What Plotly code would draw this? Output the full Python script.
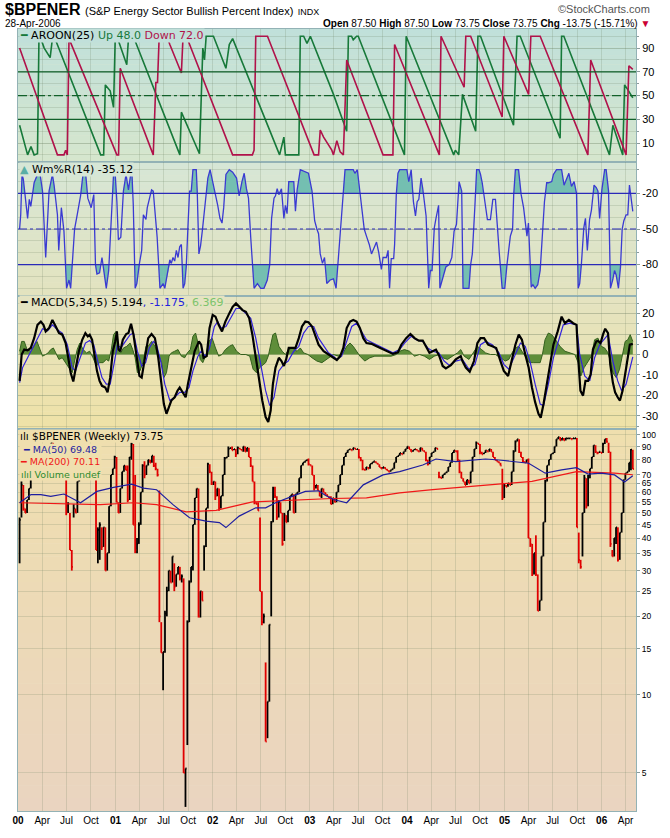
import pandas as pd
import plotly.graph_objects as go
from plotly.subplots import make_subplots

START = pd.Timestamp("2000-01-07")   # first weekly bar (Friday)

# ---------------- weekly price bars ----------------
close = [47,64,52,50,56,62,72,80,76,70, 84,88,80,75,78,85,90,93,88,84,
         80,76,72,74,70,50,54,36,31,52, 50,66,70,71,70,69,72,68,75,73,
         88,36,43,45,37,44,30,35,53,70, 74,82,55,50,62,72,76,73,56,82,
         92,45,36,38,45,60,76,70,76,80, 78,83,76,74,70,20,14.5,14.6,20.5,25,
         30,27,34,26,29,31,28,28.5,5,5.2, 19,27,31,45,57,62,20,25,23,37,
         52,77,72,65,66,58,62,52,58,70, 81,82,88,89,87,88,84,89,88,87,
         90,86,89,82,76,66,55,54,51,25, 19,20,6.6,9.4,18.6,46,62,58,48,55,
         50,38,49,46,51,58,59,50,59,60, 68,76,78,79,80,77,76,70,62,64,
         61,58,62,60,59,58,57,54,57,55, 60,64,70,76,82,85,87,88,87,89,
         88,88,82,80,74,73,75,74,77,78, 79,78,77,75,74,75,74,73,72,73,
         74,78,82,83,85,84,86,88,90,88, 86,87,88,87,86,89,87,86,80,77,
         82,85,86,89,88,69,68,70,71,72, 75,78,85,87,86,80,72,68,66,64,
         67,65,72,82,88,93,92,86,84,85, 87,86,88,86,82,80,79,78,76,57,
         64,63,65,64,72,86,94,96,86,82, 79,78,80,40,38,29,35,29,21,23,
         34,46,66,76,80,84,85,90,96,98, 95,97,95,97,97,97,96,97,97,44,
         33,31,50,68,53,68,74,82,91,86, 85,86,85,92,96,94,86,38,34,40,
         44,33,42,50,67,71,72,78,87.5,73.75]
high = [48,66,64,52,56,62,72,80,80,76, 86,89,88,80,80,86,91,93,93,88,
        84,80,76,75,74,70,55,50,36,54, 52,66,71,71,71,70,72,72,75,75,
        91,88,44,46,44,44,44,35,53,70, 74,83,82,55,62,72,76,76,76,82,
        93,92,70,40,46,60,77,79,76,80, 80,83,83,78,74,61,19,14.6,21,26,
        30,30,34,32,29,31,31,29,28,5.2, 19.3,27.5,31,45,57,62,62,25,25,37.5,
        52,78,77,72,66,66,62,62,58,70, 82,82,90,89,90,88,88,90,89,88,
        90,90,89,89,82,76,66,55,55,48, 25,20.5,13.3,9.4,18.6,46.5,63,63,58,56,
        55,50,50,49,51,58,59,59,59,60, 68,76,78,79,80,81,77,76,70,64,
        64,61,62,62,60,59,58,58,57,57, 60,64,70,76,82,85,87,88,88,89,
        89,88,88,82,80,74,75,75,77,78, 79,79,78,77,75,75,75,74,73,73,
        74,78,82,83,85,85,86,88,90,90, 88,87,88,88,87,89,89,87,86,80,
        82,85,86,89,89,72,69,70,71,72, 75,78,85,87,87,87,80,72,68,66,
        67,67,72,82,88,94,93,92,86,85, 87,87,88,88,86,82,80,79,78,74,
        65,64,65,65,72,87,95,96,96,86, 82,79,80,81,40,38,35,41,29,23,
        34,46,67,76,80,84,85,90,96,98, 98,97,97,97,97,97,97,97,97,97,
        42,33,50,70,68,70,74,82,91,91, 86,86,86,93,96,97,93,86,36,40,
        44,44,42,50,67,71,72,78,88,87.5]
low = [32,48,51,50,50,56,62,70,72,68, 70,84,70,70,70,75,84,88,87,80,
       72,70,69,70,68,49,50,36,30,48, 50,50,66,70,70,69,68,68,68,72,
       73,36,32,33,36,37,30,30,35,53, 70,74,55,50,50,62,72,73,55,56,
       80,45,35,35,38,45,60,68,70,76, 78,78,75,73,69,19,14.5,10.4,14.5,20,
       25,27,27,25,26,29,27.5,27,5,3.7, 6.4,19,27,30,45,57,19.8,19.8,23,30,
       37,52,71,64,64,56,58,51,52,58, 70,81,82,88,87,87,82,84,88,87,
       86,86,86,82,75,66,54,54,51,25, 18.5,18.8,6.6,6.8,9.4,20,46,57,47,48,
       50,37.4,39,46,46,51,58,50,50,59, 60,68,76,78,79,76,76,70,61,62,
       61,58,57,60,59,58,57,54,54,55, 55,60,64,70,76,82,85,87,87,87,
       88,87.5,81,79,73,73,73,74,74,77, 78,78,77,75,74,74,74,73,72,72,
       73,74,78,82,83,84,84,86,88,88, 86,86,87,87,86,86,87,86,79,76,
       77,82,85,86,88,68,68,68,70,71, 72,75,78,85,86,79,71,68,66,64,
       64,65,65,72,82,88,92,84,84,84, 85,86,86,86,82,80,79,78,76,56,
       57,63,63,64,64,72,86,94,85,82, 78,78,78,40,37,28.6,29,28.6,21,21,
       23,34,46,66,76,80,84,85,90,96, 95,95,95,95,96,96,96,96,96,44,
       32,30.5,34,50,52,53,68,74,82,85, 84,85,85,85,92,93,85,37,34,34,
       38,32.5,33,42,50,67,71,72,73,73.75]

# moving averages: (week number, value)
ma50_pts = [(0,54.7),(6.1,58.8),(11.4,58.8),(16.7,57.9),(23.8,59.1),(32.7,54.7),(41.5,60.5),
            (50.4,62.7),(60.2,64.5),(66.4,62.3),(73.5,61.4),(82.3,53.8),(91.2,47.9),(100,46.5),
            (107.2,45.9),(110.7,43.9),(117.8,48.6),(126.7,52.3),(132,52.3),(137.3,54.7),(146.2,57.9),
            (153.3,60.5),(160.4,60.8),(164,58.5),(168.4,56.3),(175.5,54.7),(184.4,64.1),(195,70.0),
            (203.9,72.1),(216.3,76.4),(223.4,80.6),(234,78.7),(250,80.6),(257.1,79.9),(273.1,77.6),
            (282,71.1),(290.8,73.2),(298.8,74.6),(305,70.5),(312.1,71.1),(319.2,70.0),(324.6,65.7),
            (329,69.48)]
ma200_pts = [(0,54.7),(25.6,54.3),(43.3,53.8),(61,54.7),(73.5,53.8),(89.4,50.5),(105.4,51.1),
             (124.9,55.1),(139.1,55.7),(167.5,56.8),(186.1,57.1),(203.9,59.7),(221.6,61.4),
             (241.1,63.2),(260.6,65.1),(274.9,66.1),(298.8,72.1),(319.2,71.1),(329,70.11)]

# AROON(25)
aroon_up_pts = [(0,25),(2.5,9),(4.3,0),(6.1,7),(7.8,0),(9.6,1),(10.4,100),(11.4,98),(13.2,90),(16.4,82),
                (17.6,98),(18.5,100),(43.5,0),(45.1,0),(46,59),(48.6,54),(50.4,40),(51.3,98),(52.2,100),
                (57.5,76),(58.4,98),(60.2,100),(61,100),(86,0),(86.8,36),(96.5,1),(98.3,90),(99.2,80),
                (100.1,100),(104,100),(110.7,73),(112.5,93),(114.3,98),(139.5,0),(141.8,15),(142.6,0),
                (149.8,0),(150.6,100),(152.4,100),(154.2,94),(156,100),(168.4,51),(175.5,20),(176.4,100),
                (178.1,100),(179,97),(180.8,100),(181.7,100),(206.5,0),(207.4,100),(232.9,0),(233.8,4),
                (235.6,0),(237.6,51),(244.7,20),(245.9,100),(247.3,100),(265,25),(266.9,100),(268.6,100),
                (290,14),(290.8,100),(292,100),(316.5,0),(318.3,25),(323.6,0),(324.6,59),(326.3,55),(329,48)]
aroon_dn_pts = [(0,90),(19.4,4),(20.3,0),(23.8,0),(24.7,4),(25.6,0),(26.5,98),(52.2,0),(53.1,0),(54,73),
                (71.7,0),(73.1,61),(74,61),(74.9,100),(79,100),(80.6,93),(86.8,69),(87.7,100),(89.5,100),
                (114.3,0),(124.9,0),(125.8,4),(126.7,100),(133,100),(158,0),(160.4,0),(161.3,21),(163.1,15),
                (167.5,4),(168.4,0),(170.2,12),(172,2.5),(173.7,0),(175.5,80),(195,0),(200.3,0),(201.2,93),
                (225.2,0),(226.1,100),(238.5,57),(239.4,100),(242,100),(258.9,32),(259.8,100),(273.1,51),
                (274.3,100),(279.3,100),(304.9,0),(306.4,80),(325.4,0),(326.9,75),(329,72)]

# Williams %R(14)
wmr_pts = [(0,-50),(0.6,-38),(1.3,-4),(2,-8),(4.3,-41),(5.2,-25),(6,-31),(7.8,-11),(9.6,-4),(11,-4),
           (12.3,-18),(14,-74),(15.8,-18),(17.6,-4),(18.5,-13),(20.3,-38),(21,-68),(22.4,-32),(23.8,-52),
           (25.2,-100),(26.5,-93),(27.4,-100),(28.2,-81),(29.5,-50),(30.9,-38),(32.7,-22),(34,-4),(35.3,-1),
           (36.6,-24),(38.4,-32),(39.8,-21),(40.7,-80),(41.5,-88),(42.9,-87),(44.2,-74),(45.1,-85),
           (46.5,-100),(47.8,-85),(49.5,-27),(50.4,-4),(51.3,-4),(52.2,-27),(53,-59),(54.3,-57),(55.7,-18),
           (57.1,-4),(58.4,-17),(59.6,-4),(60.3,-4),(61,-30),(62,-100),(62.9,-96),(64.3,-79),(65.5,-68),
           (66.4,-38),(67.8,-42),(68.5,-32),(69.6,-25),(70.8,-17),(71.7,-18),(72.6,-38),(73.8,-57),
           (75.3,-100),(77,-96),(77.9,-100),(79.7,-85),(80.6,-76),(81.4,-79),(82.3,-74),(83.2,-77),
           (84.1,-68),(85,-74),(85.9,-65),(86.8,-63),(87.7,-100),(88.6,-96),(89.4,-82),(90.3,-49),
           (91.2,-18),(92.1,-18),(93,0),(94.8,0),(95.3,-18),(96.2,-71),(97.1,-64),(98,-52),(98.7,-41),
           (99.2,-35),(100.1,-17),(101,-7),(102.2,0),(103.6,-10),(105.4,-24),(106.3,-30),(107.5,-41),
           (108.6,-45),(109.5,-32),(110.7,-4),(112.5,0),(114.3,-2),(116.4,-7),(117.8,-22),(119.3,-10),
           (120.5,-3),(121.7,-16),(122.8,-24),(124,-57),(124.9,-80),(125.8,-100),(127.6,-96),(129.4,-100),
           (131.1,-100),(132.9,-93),(134.2,-80),(135.2,-41),(136.5,-24),(137.3,-22),(138.2,-16),(139.1,-21),
           (140.5,-16),(141.8,-41),(142.6,-30),(143.5,-37),(144.4,-10),(145.8,-10),(147.1,-10),(148,-35),
           (148.9,-17),(150.6,0),(155,-3),(156.9,-18),(158.3,-43),(159.5,-50),(160.4,-54),(161.3,-71),
           (162.5,-79),(163.6,-74),(164.8,-96),(166.6,-93),(168.4,-92),(169.8,-100),(171,-74),(172.3,-46),
           (173.4,-20),(174.6,0),(179,0),(179.9,-3),(181.2,0),(182.6,-18),(183.5,-32),(184.9,-50),
           (186.1,-56),(187.6,-63),(188.8,-71),(189.7,-68),(191.5,-61),(192.7,-70),(194.1,-84),(195,-74),
           (196.8,-74),(197.7,-68),(198.5,-100),(199.4,-75),(200.7,-75),(201.2,-63),(202.1,-21),(203,-3),
           (203.9,0),(207.8,0),(208.8,-10),(210.1,0),(211.3,-27),(212.4,-39),(213.3,-27),(214.2,-25),
           (215.4,-7),(216.3,-16),(218.1,-39),(219.5,-100),(220.4,-85),(221.3,-85),(222.5,-49),(223.4,-41),
           (224.8,-30),(225.5,-100),(226.9,-93),(228.7,-82),(230.5,-80),(231.9,-74),(233.1,-52),(234.4,-46),
           (235.8,-10),(237.2,-18),(237.9,-100),(241.1,-100),(242,-80),(242.9,-71),(244.3,-30),(245.2,0),
           (246.5,0),(247.3,-4),(248.2,-11),(250,-32),(251,-42),(252.6,-42),(253.9,-25),(255.3,-25),
           (256.2,-49),(257.4,-71),(258.9,-100),(260.3,-100),(261.5,-80),(263.3,-56),(264.5,-50),(265.1,-21),
           (266,0),(267.7,0),(269.1,-21),(270.4,-32),(272.2,-56),(273,-45),(274.5,-99),(275.4,-97),
           (276.6,-100),(278,-97),(279.3,-85),(280.5,-54),(281.6,-27),(282.8,-11),(283.7,-11),(285.5,-10),
           (286.4,-4),(288.1,0),(290.8,0),(292.1,-13),(293.5,-7),(294.7,-3),(296.1,-14),(297.5,-10),
           (298.8,-20),(299.7,-100),(300.5,-96),(301.4,-80),(302.7,-49),(303.6,-41),(304.6,-68),(305.8,-42),
           (306.8,-34),(308.2,-13),(309.4,-15),(310.3,-18),(311.2,-41),(312.4,-17),(313.9,0),(314.7,0),
           (316,-18),(317,-100),(318.2,-93),(319.2,-85),(320.1,-89),(321.3,-100),(322.4,-82),(323.3,-50),
           (324.2,-43),(325.4,-38),(326.3,-38),(327.2,-13),(329,-35.12)]

# MACD(5,34,5)
macd_pts = [(0,-12.9),(1.1,0),(2.5,2.4),(4.3,2),(6,3.2),(7.8,8),(9.6,14.5),(11.4,16.1),(12.8,14.5),
            (14,11.3),(15.8,12.9),(17.6,16.9),(19.4,13.7),(21.1,10.5),(22.9,9.7),(24.7,5.6),(26.1,-1.6),
            (27.4,-8.9),(28.8,-13.2),(30,-8),(31.8,1.6),(33.6,7.2),(35.3,10.5),(36.6,8.9),(37.6,9.7),
            (38.9,7.2),(40.3,-1.6),(41.5,-8),(42.9,-12.9),(44.2,-15.3),(46,-16.1),(47.2,-18.5),(48.6,-11.3),
            (50,1.6),(51.3,6.4),(52.2,11.3),(53.1,2.4),(54,1.6),(55.4,7.2),(57.2,10),(58.4,10.5),(59.8,15),
            (61.1,9.7),(62.8,-1.6),(64.3,-10.5),(65.5,-11.3),(66.4,-6.4),(67.8,1.6),(69,8),(70.8,10),
            (72.6,8),(74.4,-1.6),(76.2,-14.5),(77.4,-24.2),(78.8,-29),(80.2,-25),(81.4,-22.5),(83.2,-20.9),
            (84.7,-17.7),(85.9,-16.1),(87.3,-18.5),(89.1,-20.9),(90.3,-14.5),(92.1,-5.6),(93.9,1.6),
            (96.2,6.4),(97.4,4.8),(98.7,-1.6),(100.4,-0.8),(101.9,12.9),(103.6,19.3),(105.1,18.5),
            (106.8,14.5),(108.6,11.3),(110.4,16.1),(112.5,20.1),(114.3,23.3),(116.1,25),(117.8,23.3),
            (119.6,21.7),(121.4,20.9),(123.2,17.7),(124.9,9.7),(126.7,-1.6),(128.5,-11.3),(130.2,-22.5),
            (132,-30.6),(133.4,-33),(134.7,-27.4),(135.9,-14.5),(137.3,-6.4),(139.1,-1.6),(140.5,-3.2),
            (141.8,-5.6),(143,-2.4),(144.4,3.2),(146.2,3.2),(148,3.2),(149.8,8),(151.5,13.7),(153.3,16.1),
            (155,15.8),(156.9,13.7),(158.6,9.7),(160.4,4.8),(163.1,1.6),(165.7,0),(168.4,-1.6),
            (170.2,-2.7),(172,-0.8),(173.7,3.2),(175.5,12.9),(177.3,16.1),(179,16.9),(180.8,16.1),
            (182.6,12.9),(184.4,8),(186.1,5.6),(188.8,5.2),(191.5,4),(194.1,2.9),(196.8,1.6),(200.3,0.3),
            (203,1.1),(204.8,4.8),(207.4,8),(209.7,10),(211.9,8),(214.2,6.8),(216.3,6.8),(218.1,4),
            (219.9,0.8),(221.6,1.6),(223.4,2.4),(225.2,-0.8),(227,-5.6),(228.7,-6.8),(231.4,-5.2),
            (234,-2.4),(236.7,-0.8),(237.6,-3.2),(239.4,-6.4),(241.5,-8.4),(243.8,-3.2),(245.6,5.6),
            (247.3,8),(249.2,8),(251.4,4.8),(253.6,4),(255.7,3.2),(258,-3.2),(259.8,-8),(262.1,-10.5),
            (263.9,-3.2),(266,4.8),(267.8,9.7),(269.5,7.2),(271.3,0),(273.1,-6.4),(274.9,-16.1),
            (276.6,-23.3),(278.4,-29),(279.6,-30.9),(281.1,-24.2),(282.8,-14.5),(284.6,-3.2),(286.4,4.8),
            (288.7,11.3),(290.8,18.5),(292.6,15.3),(294.7,16.9),(297,15.3),(298.8,14.5),(299.7,-1.6),
            (300.9,-17.7),(302.3,-20.1),(303.6,-12.9),(305,-12.9),(306.4,-9.7),(307.6,2.4),(309.4,6.4),
            (310.3,6.6),(311.7,5.6),(313,9.7),(314.2,12.6),(315.7,10.5),(316.9,-4.8),(318.3,-13.7),
            (319.5,-18.5),(320.9,-20.9),(322.1,-22.5),(323.5,-17.7),(324.7,-11.3),(326.1,-3.2),
            (327.4,4.8),(329,5.194)]
signal_pts = [(0,-13.7),(1.6,-6.4),(4.3,-1.6),(7,3.2),(9.6,8),(12.3,12.6),(15,11.6),(17.6,14.5),
              (20.3,12.1),(22.9,10.5),(25.6,4.8),(28.2,-6.4),(30,-8),(32.7,-0.8),(35.3,5.6),(37.6,6.8),
              (39.8,4.8),(41.9,-3.2),(44.2,-11.3),(46.5,-14.5),(48.6,-14.5),(50.8,-4),(52.5,4.8),
              (54.3,3.2),(56.6,6.4),(59.3,9.7),(61.1,10.5),(63.2,1.6),(65.5,-5.6),(67.6,-4),(69.6,3.2),
              (71.7,6.4),(73.5,4.8),(75.7,-3.2),(77.9,-14.5),(80.6,-22.5),(83.2,-20.9),(85.9,-18.5),
              (88.6,-18.5),(90.9,-16.1),(93,-8),(95.7,-0.8),(97.4,1.6),(99.7,-0.8),(101.9,3.2),
              (104.5,13.7),(106.3,16.1),(108.1,12.9),(110.7,13.7),(113.4,18.5),(116.1,22.5),(118.7,22.5),
              (121.4,20.1),(124,17.7),(126.7,8),(129.4,-4.8),(132,-17.7),(134.2,-25),(136.5,-20.9),
              (139.1,-8),(141.8,-4.8),(144.1,-3.2),(147.1,1.6),(149.8,4),(152.4,10.5),(155,13.7),
              (157.8,13.7),(160.4,8),(163.1,4),(165.7,0.8),(168.4,-0.8),(170.2,-2.4),(172.8,-0.8),
              (175.5,6.4),(178.2,13.7),(180.8,15.3),(183.5,11.3),(186.1,7.2),(189.6,5.6),(193.2,4),
              (196.8,2.4),(200.3,0.8),(203.9,2.4),(206.5,5.6),(210.1,8.9),(212.8,7.2),(216.3,6.4),
              (219,3.2),(221.6,1.6),(224.9,0.8),(227.8,-3.2),(230.5,-5.2),(234,-3.2),(237.6,-2.4),
              (241.1,-7.2),(244.3,-4.8),(247.3,4.8),(250,6.4),(253.6,4.8),(257.2,0.8),(259.8,-4.8),
              (262.5,-7.2),(265.2,-1.6),(268.7,5.6),(271.3,4),(274,-4),(276.6,-14.5),(279.3,-24.2),
              (281.1,-25),(283.7,-14.5),(286.4,-1.6),(289.1,7.2),(291.7,14.5),(295.2,15.3),(298.8,14.5),
              (300.5,0),(303.2,-10.5),(305.9,-12.9),(308.5,-1.6),(311.2,4.8),(313.9,8),(315.7,9.7),
              (318.3,-3.2),(320.9,-12.9),(323,-17.7),(325.4,-14.5),(329,-1.175)]
hist_pts = [(0,1.6),(1.1,6.4),(2.5,6.4),(4,2.4),(6,1.6),(7.5,4),(9.3,6.4),(11,2.4),(12.3,-0.8),(14,0),
            (15.3,0.8),(16.7,2.4),(18.1,3.2),(19.4,0.8),(21.1,-2.4),(22.9,-1.6),(24.7,-4),(26.5,-6.4),
            (28.2,-8.9),(29.5,-3.2),(30.9,2.4),(32.3,5.6),(34.1,2.4),(35.9,0.8),(37.6,1.6),(39.4,-1.6),
            (41.2,-5.6),(42.9,-4),(44.8,-4),(46.5,-2.4),(47.8,-3.2),(49.2,2.4),(50.4,9.7),(51.8,11.3),
            (53.1,3.2),(54.3,0.8),(55.7,3.2),(57.5,4),(59.3,5.6),(60.7,2.4),(62,-1.6),(63.2,-8.9),
            (64.6,-8),(66.4,-3.2),(67.8,4),(69,4),(70.8,6.4),(72.6,4),(74.4,0),(76.2,-4),(77.4,-11.3),
            (78.8,-8.9),(80.2,-0.8),(81.4,0.8),(83.2,1.6),(85,2.4),(86.8,-0.8),(88.6,-1.6),(90,0.8),
            (91.6,2.4),(93,8.9),(94.4,10.5),(95.7,5.6),(96.9,-2.4),(98.3,-4),(100.1,0),(101.5,6.4),
            (103.3,8),(105.1,3.2),(106.8,-0.8),(108.6,0),(110.4,2.4),(112.5,4),(114.3,4.8),(116.4,1.6),
            (118.7,0),(121.4,0),(123.5,-0.8),(125.3,-7.2),(127.1,-8.9),(128.8,-6.4),(130.6,-4.8),(132,-4),
            (133.4,-0.8),(134.7,4),(135.9,9.7),(137.3,10.5),(139.1,4),(140.9,1.6),(142.6,0),(144.4,2.4),
            (146.2,3.2),(148.9,1.6),(150.6,3.2),(152.4,0.8),(154.7,0),(156.9,-1.6),(159.5,-3.2),(162.2,-4),
            (164.8,-2.4),(167.5,-0.8),(168.4,0),(171,-0.8),(173.7,0.8),(175.5,4),(177.3,5.6),(179,4),
            (180.8,1.6),(182.6,-0.8),(185.2,-3.2),(187.9,-1.6),(190.6,-0.8),(193.2,-0.8),(195.9,-0.8),
            (199.4,-0.8),(202.1,0),(203.9,1.6),(206.5,2.4),(209.2,1.6),(211.9,-0.8),(214.6,0),(217.2,-0.8),
            (219.9,-2.4),(222.5,-0.8),(225.2,0),(227,-1.6),(229.6,-2.4),(232.3,-0.8),(234.9,0.8),
            (236.7,2.4),(238.5,-0.8),(241.1,-2.4),(243.8,1.6),(245.6,4),(247.9,2.4),(250,0.8),(252.6,0),
            (255.3,0),(258,-1.6),(260.6,-3.2),(262.5,-2.4),(264.2,0.8),(266,3.2),(267.8,4),(269.5,1.6),
            (271.3,-0.8),(273.5,-4),(275.8,-4),(277.5,-4),(279.3,-4),(280.5,0),(281.9,7.2),(283.7,10.5),
            (285.5,9.7),(287.6,7.2),(289.9,4),(292.6,1.6),(295.2,0.8),(297.9,0),(299.7,-4),(301.1,-10.5),
            (302.9,-6.4),(305,-3.2),(306.8,-0.8),(308.5,7.2),(310.3,8),(312.1,4),(313.9,3.2),(315.7,0.8),
            (317.2,-4),(318.3,-8.9),(320.1,-11.3),(321.9,-7.2),(323.7,0),(324.9,6.4),(326.3,7.2),
            (327.6,9.7),(329,6.369)]

x_tick_dates = ["2000-01-01","2000-04-01","2000-07-01","2000-10-01","2001-01-01","2001-04-01",
                "2001-07-01","2001-10-01","2002-01-01","2002-04-01","2002-07-01","2002-10-01",
                "2003-01-01","2003-04-01","2003-07-01","2003-10-01","2004-01-01","2004-04-01",
                "2004-07-01","2004-10-01","2005-01-01","2005-04-01","2005-07-01","2005-10-01",
                "2006-01-01","2006-04-01"]
x_tick_labels = ["<b>00</b>","Apr","Jul","Oct","<b>01</b>","Apr","Jul","Oct","<b>02</b>","Apr","Jul","Oct",
                 "<b>03</b>","Apr","Jul","Oct","<b>04</b>","Apr","Jul","Oct","<b>05</b>","Apr","Jul","Oct",
                 "<b>06</b>","Apr"]
aroon_ticks = [10, 30, 50, 70, 90]
wmr_ticks = [-20, -50, -80]
macd_ticks = [20, 10, 0, -10, -20, -30]
price_ticks = [100, 90, 80, 70, 65, 60, 55, 50, 45, 40, 35, 30, 25, 20, 15, 10, 5]

# ---------------- helpers ----------------
def to_dates(ws):
    return [START + pd.Timedelta(days=7.0 * w) for w in ws]

def unzip(pts):
    return [p[0] for p in pts], [p[1] for p in pts]

def clip_to_level(pts, level, above):
    xs, ys = [], []
    for k, (w, v) in enumerate(pts):
        if k:
            w0, v0 = pts[k - 1]
            if (v0 - level) * (v - level) < 0:
                t = (level - v0) / (v - v0)
                xs.append(w0 + t * (w - w0)); ys.append(level)
        xs.append(w); ys.append(max(v, level) if above else min(v, level))
    return xs, ys

def hex2rgb(h):
    h = h.lstrip("#"); return tuple(int(h[i:i + 2], 16) for i in (0, 2, 4))

def mix(c1, c2, t):
    a, b = hex2rgb(c1), hex2rgb(c2)
    return "rgb(%d,%d,%d)" % tuple(round(a[i] + (b[i] - a[i]) * t) for i in range(3))

FONT = "Liberation Sans, Arial, sans-serif"
LFONT = "DejaVu Sans, Verdana, sans-serif"
GRID = "rgba(105,125,95,0.20)"
BORDER = "#93B2B5"

# panel layout (paper fractions)
D1, D2, D3, D4 = [0.8293, 1.0], [0.6587, 0.8293], [0.4880, 0.6587], [0.0, 0.4880]
PANEL_COLORS = [(D1, "#C0E0DA", "#D6E6CD"), (D2, "#D6E6D6", "#E3E3BF"),
                (D3, "#E4E3C1", "#EFE2A7"), (D4, "#EFDFAE", "#EAD4C0")]

fig = make_subplots(rows=4, cols=1, shared_xaxes=True, vertical_spacing=0)

# ---- AROON ----
x, y = unzip(aroon_up_pts)
fig.add_trace(go.Scatter(x=to_dates(x), y=y, mode="lines", line=dict(color="#17793A", width=1.6)), 1, 1)
x, y = unzip(aroon_dn_pts)
fig.add_trace(go.Scatter(x=to_dates(x), y=y, mode="lines", line=dict(color="#B0124A", width=1.6)), 1, 1)

# ---- Williams %R ----
for level, above in ((-20, True), (-80, False)):
    xs, ys = clip_to_level(wmr_pts, level, above)
    fig.add_trace(go.Scatter(x=to_dates(xs), y=[level] * len(xs), mode="lines",
                             line=dict(width=0), hoverinfo="skip"), 2, 1)
    fig.add_trace(go.Scatter(x=to_dates(xs), y=ys, mode="lines", line=dict(width=0),
                             fill="tonexty", fillcolor="#74BFB1", hoverinfo="skip"), 2, 1)
x, y = unzip(wmr_pts)
fig.add_trace(go.Scatter(x=to_dates(x), y=y, mode="lines", line=dict(color="#3A3AD2", width=1.3)), 2, 1)

# ---- MACD ----
x, y = unzip(hist_pts)
fig.add_trace(go.Scatter(x=to_dates(x), y=y, mode="lines", fill="tozeroy", fillcolor="#5F8E3A",
                         line=dict(color="#34601E", width=1)), 3, 1)
x, y = unzip(signal_pts)
fig.add_trace(go.Scatter(x=to_dates(x), y=y, mode="lines", line=dict(color="#3322DD", width=1.2)), 3, 1)
x, y = unzip(macd_pts)
fig.add_trace(go.Scatter(x=to_dates(x), y=y, mode="lines", line=dict(color="#000000", width=2.2)), 3, 1)

# ---- price bars ----
dates = to_dates(range(len(close)))
seg = {True: ([], []), False: ([], [])}
for i, (d, h, l, c) in enumerate(zip(dates, high, low, close)):
    up = i == 0 or c >= close[i - 1]
    sx, sy = seg[up]
    sx += [d, d, None, d, d + pd.Timedelta(days=4), None]
    sy += [l, h, None, c, c, None]
for up, col in ((True, "#000000"), (False, "#E00000")):
    sx, sy = seg[up]
    fig.add_trace(go.Scatter(x=sx, y=sy, mode="lines", line=dict(color=col, width=1.8),
                             connectgaps=False), 4, 1)
x, y = unzip(ma200_pts)
fig.add_trace(go.Scatter(x=to_dates(x), y=y, mode="lines", line=dict(color="#F01818", width=1.2)), 4, 1)
x, y = unzip(ma50_pts)
fig.add_trace(go.Scatter(x=to_dates(x), y=y, mode="lines", line=dict(color="#1E1EA0", width=1.2)), 4, 1)

# ---- reference lines ----
for lv, dash in ((70, "solid"), (30, "solid"), (50, "dashdot")):
    fig.add_hline(y=lv, row=1, col=1, line=dict(color="#11602A", width=1.2, dash=dash))
for lv, dash in ((-20, "solid"), (-80, "solid"), (-50, "dashdot")):
    fig.add_hline(y=lv, row=2, col=1, line=dict(color="#2A2AB8", width=1.2, dash=dash))

# ---- panel gradients ----
shapes = []
N = 30
for dom, ctop, cbot in PANEL_COLORS:
    h = (dom[1] - dom[0]) / N
    for k in range(N):
        shapes.append(dict(type="rect", xref="paper", yref="paper", x0=0, x1=1,
                           y0=dom[1] - (k + 1) * h, y1=dom[1] - k * h + 0.0005,
                           fillcolor=mix(ctop, cbot, (k + 0.5) / N), line=dict(width=0), layer="below"))
fig.update_layout(shapes=list(fig.layout.shapes) + shapes)

# ---- axes ----
xr = ["2000-01-01", "2006-05-10"]
fig.update_xaxes(range=xr, tickvals=x_tick_dates, ticktext=x_tick_labels, showgrid=True, gridcolor=GRID,
                 gridwidth=1, showline=True, mirror=True, linecolor=BORDER, linewidth=1, zeroline=False,
                 tickfont=dict(family=FONT, size=10, color="#000"), ticks="")
fig.update_xaxes(showticklabels=True, row=4, col=1)

ycommon = dict(side="right", showline=True, mirror=True, linecolor=BORDER, linewidth=1, zeroline=False,
               ticks="outside", ticklen=3, tickcolor="#8A9A9A", showgrid=True, gridcolor=GRID)
minor_common = dict(tick0=0, showgrid=True, gridcolor=GRID, ticks="outside", ticklen=2, tickcolor="#8A9A9A")
tf11 = dict(family=FONT, size=11, color="#000")
fig.update_layout(
    yaxis=dict(domain=D1, range=[-6.4, 106.1], tickvals=aroon_ticks, ticktext=[str(v) for v in aroon_ticks],
               minor=dict(dtick=10, **minor_common), tickfont=tf11, **ycommon),
    yaxis2=dict(domain=D2, range=[-106.4, 6.1], tickvals=wmr_ticks, ticktext=[str(v) for v in wmr_ticks],
                minor=dict(dtick=10, **minor_common), tickfont=tf11, **ycommon),
    yaxis3=dict(domain=D3, range=[-36.6, 28.65], tickvals=macd_ticks, ticktext=[str(v) for v in macd_ticks],
                minor=dict(dtick=5, **minor_common), tickfont=tf11, **ycommon),
    yaxis4=dict(domain=D4, type="log", range=[0.5525, 2.0202], tickvals=price_ticks,
                ticktext=[str(v) for v in price_ticks], tickfont=dict(family=FONT, size=8.5, color="#000"),
                **ycommon),
)

# ---- texts ----
def ann(text, x, y, xanchor="left", yanchor="middle", size=11, family=LFONT, color="#000", bg=None):
    d = dict(text=text, x=x, y=y, xref="paper", yref="paper", xanchor=xanchor, yanchor=yanchor,
             showarrow=False, font=dict(family=family, size=size, color=color), borderpad=0)
    if bg:
        d["bgcolor"] = bg
    fig.add_annotation(**d)

px = lambda p: (p - 17) / 623.0
py = lambda p: (820 - p) / 791.0

ann("<b>$BPENER</b> <span style='font-size:11px'>(S&amp;P Energy Sector Bullish Percent Index)</span>"
    " <span style='font-size:9px'>INDX</span>", px(3), py(9), size=16, family=FONT)
ann("©StockCharts.com", px(655), py(9), xanchor="right", size=11, family=FONT, color="#555")
ann("28-Apr-2006", px(3), py(23), size=10, family=FONT)
ann("<b>Open</b> 87.50 <b>High</b> 87.50 <b>Low</b> 73.75 <b>Close</b> 73.75 <b>Chg</b> -13.75 (-15.71%) "
    "<span style='color:#CC0033'>▼</span>", px(655), py(23), xanchor="right", size=10, family=FONT)

ann("<span style='color:#17793A'>━</span> AROON(25) <span style='color:#17793A'>Up 48.0</span> "
    "<span style='color:#B0124A'>Down 72.0</span>", px(18), py(36), size=11, bg="#C1E0DA")
ann("<span style='color:#5AAFA5'>▲</span> Wm%R(14) -35.12", px(18), py(171), size=11, bg="#D6E6D6")
ann("━ MACD(5,34,5) 5.194<span style='color:#2222DD'>, -1.175</span>"
    "<span style='color:#7CC46C'>, 6.369</span>", px(18), py(306), size=11, bg="#E4E3C1")
ann("ılı $BPENER (Weekly) 73.75", px(18), py(441), size=10.5, bg="#EFDFAE")
ann("<span style='color:#1E1EA0'>━ MA(50) 69.48</span><br>"
    "<span style='color:#F01818'>━ MA(200) 70.11</span><br>"
    "<span style='color:#2E8B2E'>ılıl Volume undef</span>",
    px(18), py(447.5), yanchor="top", size=9.5, bg="#EFDFAE")

fig.update_layout(width=670, height=838, margin=dict(l=17, r=30, t=29, b=18),
                  paper_bgcolor="#FFFFFF", plot_bgcolor="#EEE8D0", showlegend=False,
                  font=dict(family=FONT, size=11, color="#000"), hovermode=False)

fig.write_html("out.html", config={"displayModeBar": False, "responsive": False},
               post_script="document.body.style.margin='0';document.body.style.overflow='hidden';")
